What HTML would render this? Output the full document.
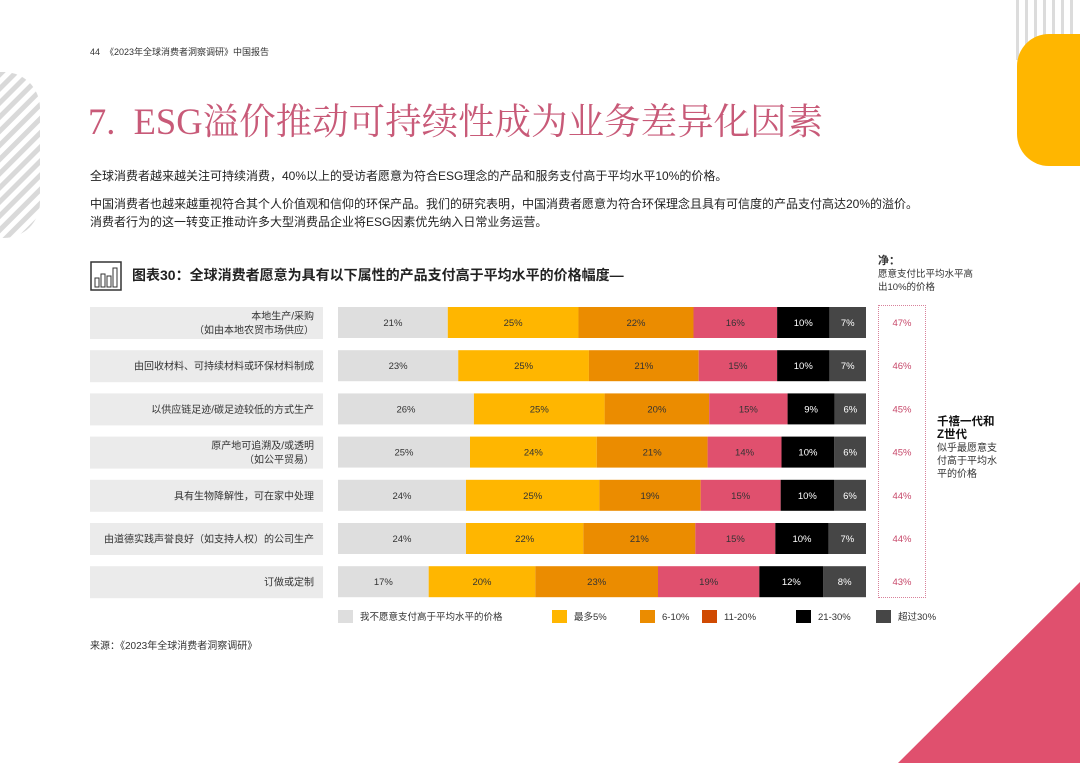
<!DOCTYPE html>
<html><head><meta charset="utf-8"><style>
*{margin:0;padding:0;box-sizing:border-box}
body{width:1080px;height:763px;position:relative;overflow:hidden;background:#fff;font-family:"Liberation Sans","Noto Sans CJK SC",sans-serif;color:#222}
.abs{position:absolute}
</style></head><body>
<svg class="abs" style="left:0;top:0" width="1080" height="763">
 <defs>
  <pattern id="st" width="10" height="10" patternUnits="userSpaceOnUse" patternTransform="rotate(45)"><rect width="5" height="10" fill="#d9d9d9"/></pattern>
  <clipPath id="lc"><rect x="-40" y="72" width="80" height="166" rx="36"/></clipPath>
 </defs>
 <rect x="0" y="72" width="40" height="166" fill="url(#st)" clip-path="url(#lc)"/>
 <g fill="#dcdcdc">
  <rect x="1016" y="0" width="3" height="60"/><rect x="1025" y="0" width="3" height="60"/><rect x="1034" y="0" width="3" height="60"/><rect x="1043" y="0" width="3" height="60"/><rect x="1052" y="0" width="3" height="60"/><rect x="1061" y="0" width="3" height="60"/><rect x="1070" y="0" width="3" height="60"/>
 </g>
 <rect x="1017" y="34" width="100" height="132" rx="32" fill="#ffb600"/>
 <polygon points="898,763 1080,582 1080,763" fill="#e0506e"/>
</svg>
<div class="abs" style="left:90px;top:45px;font-size:9px;color:#333">44 &nbsp;《2023年全球消费者洞察调研》中国报告</div>
<div class="abs" style="left:88px;top:93px;font-size:36.5px;color:#c85a78;font-family:'Liberation Serif','Noto Serif CJK SC',serif">7.&nbsp; ESG溢价推动可持续性成为业务差异化因素</div>
<div class="abs" style="left:90px;top:167px;font-size:12px;line-height:18px;color:#222">全球消费者越来越关注可持续消费，40%以上的受访者愿意为符合ESG理念的产品和服务支付高于平均水平10%的价格。</div>
<div class="abs" style="left:90px;top:195px;font-size:12px;line-height:18px;color:#222;width:950px">中国消费者也越来越重视符合其个人价值观和信仰的环保产品。我们的研究表明，中国消费者愿意为符合环保理念且具有可信度的产品支付高达20%的溢价。<br>消费者行为的这一转变正推动许多大型消费品企业将ESG因素优先纳入日常业务运营。</div>
<svg class="abs" style="left:90px;top:261px" width="32" height="30"><rect x="1" y="1" width="30" height="28" fill="none" stroke="#333" stroke-width="1.5"/><rect x="5" y="17" width="4" height="9" fill="none" stroke="#333"/><rect x="11" y="13" width="4" height="13" fill="none" stroke="#333"/><rect x="17" y="15" width="4" height="11" fill="none" stroke="#333"/><rect x="23" y="7" width="4" height="19" fill="none" stroke="#333"/></svg>
<div class="abs" style="left:132px;top:265px;font-size:14px;font-weight:bold;color:#222">图表30：全球消费者愿意为具有以下属性的产品支付高于平均水平的价格幅度—</div>
<div class="abs" style="left:878px;top:255px;font-size:9.5px;line-height:13px;color:#333;width:120px"><b style="font-size:11px">净：</b><br>愿意支付比平均水平高<br>出10%的价格</div>
<div class="abs" style="left:878px;top:305px;width:48px;height:293px;border:1.5px dotted #d8819a"></div>
<div class="abs" style="left:937px;top:416px;font-size:10px;line-height:13px;color:#333;width:80px"><b style="font-size:11.5px;color:#111">千禧一代和<br>Z世代</b><br>似乎最愿意支<br>付高于平均水<br>平的价格</div>
<svg id="chart" class="abs" style="left:0;top:0" width="1080" height="763"></svg>
<div class="abs" style="left:90px;top:637px;font-size:10px;color:#333">来源：《2023年全球消费者洞察调研》</div>
<script>
const categories=[["本地生产/采购","（如由本地农贸市场供应）"],["由回收材料、可持续材料或环保材料制成"],["以供应链足迹/碳足迹较低的方式生产"],["原产地可追溯及/或透明","（如公平贸易）"],["具有生物降解性，可在家中处理"],["由道德实践声誉良好（如支持人权）的公司生产"],["订做或定制"]];
const seriesNames=["我不愿意支付高于平均水平的价格","最多5%","6-10%","11-20%","21-30%","超过30%"];
const notWilling=[21,23,26,25,24,24,17];
const upTo5=[25,25,25,24,25,22,20];
const p6to10=[22,21,20,21,19,21,23];
const p11to20=[16,15,15,14,15,15,19];
const p21to30=[10,10,9,10,10,10,12];
const over30=[7,7,6,6,6,7,8];
const netValues=[47,46,45,45,44,44,43];
const colors=["#dedede","#ffb600","#eb8c00","#e0506e","#000000","#464646"];
const legendColors=["#dedede","#ffb600","#eb8c00","#d04a02","#000000","#464646"];
const textColors=["#333","#333","#333","#333","#fff","#fff"];
const NS="http://www.w3.org/2000/svg";
const svg=document.getElementById('chart');
const x0=338,x1=866,rowTop0=307,rowStep=43.2,barH=31;
const yRow=i=>rowTop0+i*rowStep;
function mk(t,a){const e=document.createElementNS(NS,t);for(const k in a)e.setAttribute(k,a[k]);svg.appendChild(e);return e;}
const series=[notWilling,upTo5,p6to10,p11to20,p21to30,over30];
categories.forEach((cat,i)=>{
 const y=yRow(i);
 const bg=mk('rect',{x:90,y:y,width:233,height:barH+1,fill:'#ebebeb'});
 
 
 cat.forEach((line,j)=>{
  const t=mk('text',{x:314,y:y+barH/2+4+(cat.length>1?(j-0.5)*14:0),'text-anchor':'end','font-size':10,fill:'#333'});
  t.textContent=line;
  
  
 });
 const total=series.reduce((s,a)=>s+a[i],0);
 let cx=x0;
 series.forEach((arr,k)=>{
  const w=arr[i]/total*(x1-x0);
  const r=mk('rect',{x:cx,y:y,width:w,height:barH,fill:colors[k]});
  
  
  const t=mk('text',{x:cx+w/2,y:y+barH/2+3.5,'text-anchor':'middle','font-size':9.5,fill:textColors[k]});
  t.textContent=arr[i]+'%';
  
  
  cx+=w;
 });
 const n=mk('text',{x:902,y:y+barH/2+3.5,'text-anchor':'middle','font-size':9.5,fill:'#c7486a'});
 n.textContent=netValues[i]+'%';
 
 
});
const legX=[338,552,640,702,796,876];
seriesNames.forEach((s,k)=>{
 const r=mk('rect',{x:legX[k],y:610,width:15,height:13,fill:legendColors[k]});
 
 
 const t=mk('text',{x:legX[k]+22,y:620,'font-size':9.5,fill:'#333'});
 t.textContent=s;
 
 
});
</script>
</body></html>
